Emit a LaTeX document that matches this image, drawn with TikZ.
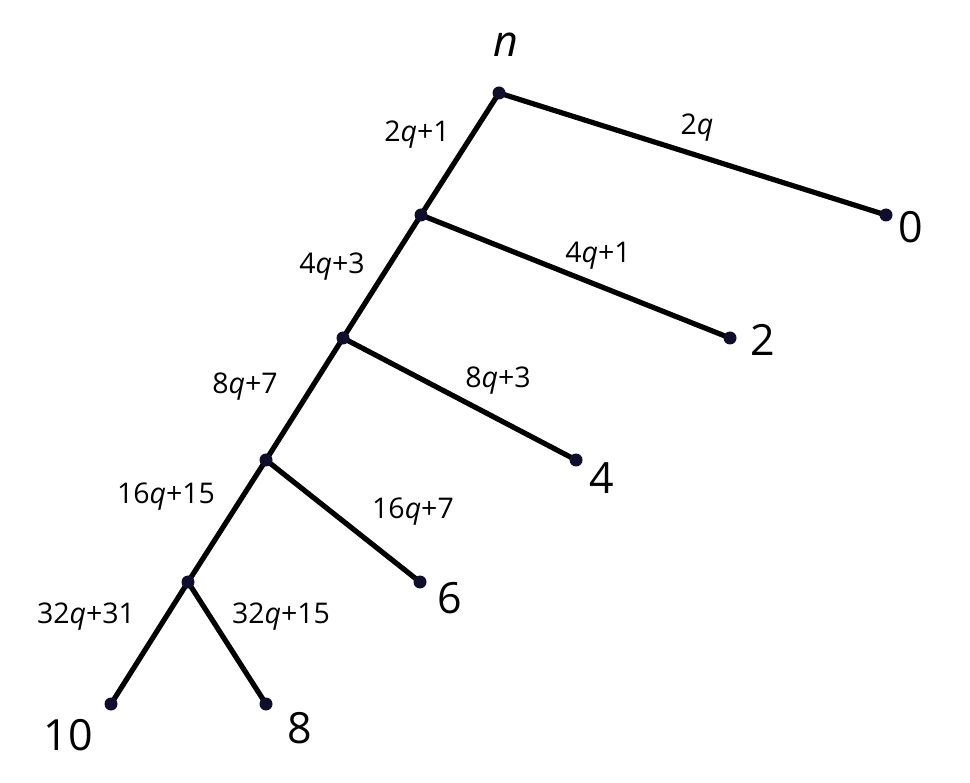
\documentclass[tikz,border=0pt]{standalone}
\usepackage{fontspec}
\setmainfont{Open Sans}
\begin{document}
\begin{tikzpicture}[x=1pt,y=-1pt,
  edge/.style={line width=5.2pt,black},
  dot/.style={circle,fill={rgb,255:red,15;green,15;blue,45},inner sep=0pt,minimum size=13pt},
  elab/.style={font=\fontsize{28.5}{30}\selectfont,inner sep=0pt},
  leaf/.style={font=\fontsize{43}{45}\selectfont,inner sep=0pt}]
\useasboundingbox (0,0) rectangle (970,783);
\coordinate (r) at (499,93);
\coordinate (a1) at (421,215);
\coordinate (a2) at (343,338);
\coordinate (a3) at (266,460);
\coordinate (a4) at (188,582);
\coordinate (l0) at (886,215);
\coordinate (l2) at (730,338);
\coordinate (l4) at (576,460);
\coordinate (l6) at (420,582);
\coordinate (l10) at (111,704);
\coordinate (l8) at (266,704);
\draw[edge] (r) -- (a1) -- (a2) -- (a3) -- (a4) -- (l10);
\draw[edge] (r) -- (l0);
\draw[edge] (a1) -- (l2);
\draw[edge] (a2) -- (l4);
\draw[edge] (a3) -- (l6);
\draw[edge] (a4) -- (l8);
\foreach \p in {r,a1,a2,a3,a4,l0,l2,l4,l6,l10,l8} \node[dot] at (\p) {};
\node[leaf,font=\fontsize{43}{45}\selectfont\itshape] (tn) at (506,45) {n};
\node[leaf] (t0) at (911,227) {0};
\node[leaf] (t2) at (763,340) {2};
\node[leaf] (t4) at (602,478) {4};
\node[leaf] (t6) at (450,598) {6};
\node[leaf] (t10) at (68,735) {10};
\node[leaf] (t8) at (300,728) {8};
\node[elab] (e1) at (697,128) {2\textit{q}};
\node[elab] (e2) at (417,135) {2\textit{q}+1};
\node[elab] (e3) at (598,256) {4\textit{q}+1};
\node[elab] (e4) at (332,267) {4\textit{q}+3};
\node[elab] (e5) at (498,381) {8\textit{q}+3};
\node[elab] (e6) at (245,387) {8\textit{q}+7};
\node[elab] (e7) at (413,512) {16\textit{q}+7};
\node[elab] (e8) at (166,497) {16\textit{q}+15};
\node[elab] (e9) at (86,617) {32\textit{q}+31};
\node[elab] (e10) at (281,617) {32\textit{q}+15};
\end{tikzpicture}
\end{document}
